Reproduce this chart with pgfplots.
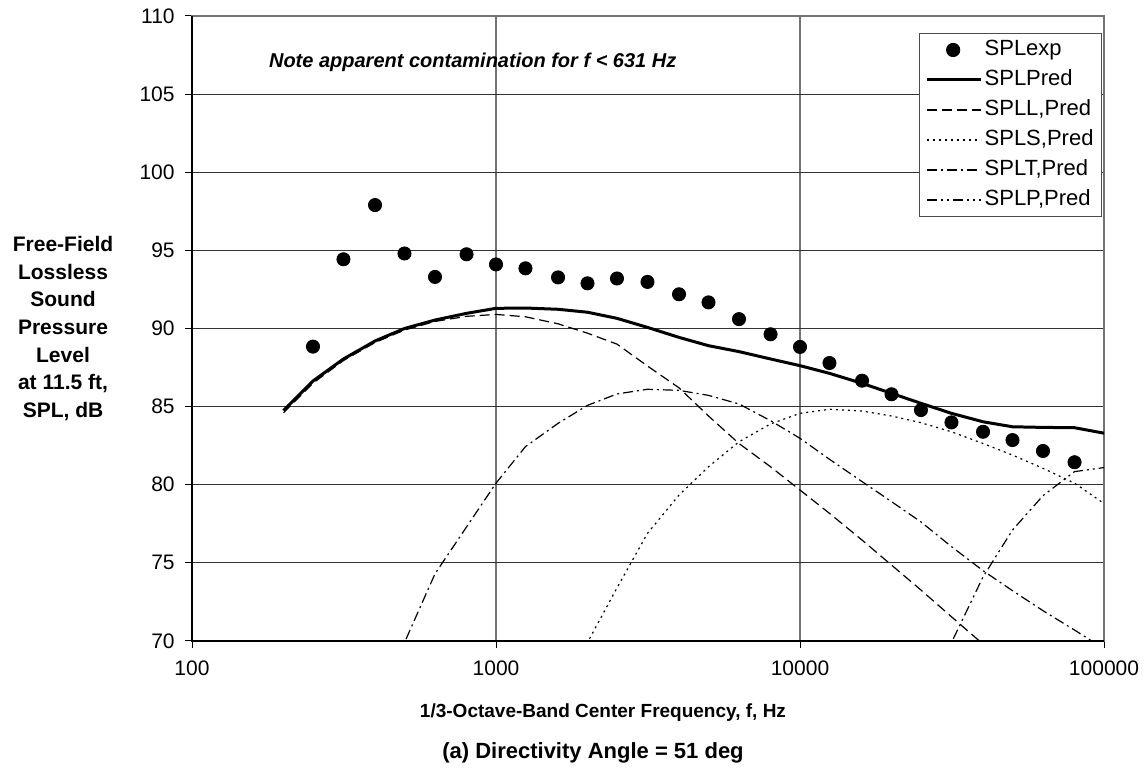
\documentclass[border=0pt]{standalone}
\usepackage{fontspec}
\setmainfont{Liberation Sans}
\usepackage{pgfplots}
\pgfplotsset{compat=1.18}

\begin{document}
\begin{tikzpicture}
% picture frame: 1146 x 770 px at 0.5pt per px, axis box at (192,16)-(1104,641)
\useasboundingbox (-96pt,-64.5pt) rectangle (477pt,320.5pt);
\begin{axis}[
    scale only axis,
    width=456pt, height=312.5pt,
    at={(0pt,0pt)}, anchor=south west,
    clip mode=individual,
    xmode=log, log basis x=10,
    xmin=100, xmax=100000,
    ymin=70, ymax=110,
    xtick={100,1000,10000,100000},
    xticklabels={100,1000,10000,100000},
    ytick={70,75,80,85,90,95,100,105,110},
    /pgf/number format/assume math mode=true,
    tick align=outside,
    major tick length=3.5pt,
    xtick pos=bottom, ytick pos=left,
    tick style={black, line width=0.5pt},
    ymajorgrids=true, xmajorgrids=true,
    y grid style={black!80, line width=0.5pt},
    x grid style={black!55, line width=0.6pt},
    axis line style={black!55, line width=0.6pt},
    ticklabel style={font=\fontsize{10.5}{12}\selectfont},
    yticklabel style={inner sep=0pt, xshift=-5pt},
    xticklabel style={inner sep=0pt, yshift=-6pt},
    legend cell align=left,
    legend style={
        at={(1,1)}, anchor=north east, xshift=-1pt, yshift=-8.5pt,
        draw=black!70, line width=0.5pt,
        font=\fontsize{11}{12}\selectfont,
        inner xsep=3pt, inner ysep=2pt,
        row sep=2.5pt,
        nodes={inner sep=1pt, text height=8pt, text depth=2.5pt},
    },
    legend image code/.code={
        \draw[mark repeat=2, mark phase=2, #1]
            plot coordinates {(0pt,0pt) (13pt,0pt) (27pt,0pt)};
    },
]

% measured SPL
\addplot[only marks, mark=*, mark size=3.3pt, black] coordinates {
(250,88.84) (315,94.43) (400,97.9) (500,94.8) (630,93.3) (800,94.75)
(1000,94.1) (1250,93.85) (1600,93.27) (2000,92.89) (2500,93.2) (3150,92.98)
(4000,92.19) (5000,91.67) (6300,90.6) (8000,89.63) (10000,88.82)
(12500,87.79) (16000,86.66) (20000,85.79) (25000,84.78) (31500,83.99)
(40000,83.39) (50000,82.86) (63000,82.16) (80000,81.44)
};
\addlegendentry{SPLexp\hspace*{3pt}}

% total prediction
\addplot[black, line width=1.5pt] coordinates {
(200,84.75) (250,86.64) (315,88.05) (400,89.2) (500,90.0) (630,90.54)
(800,90.97) (1000,91.29) (1250,91.31) (1600,91.23) (2000,91.04)
(2500,90.65) (3150,90.07) (4000,89.43) (5000,88.9) (6300,88.52)
(8000,88.05) (10000,87.62) (12500,87.13) (16000,86.49) (20000,85.85)
(25000,85.21) (31500,84.57) (40000,84.03) (50000,83.71) (63000,83.67)
(80000,83.65) (100000,83.3)
};
\addlegendentry{SPLPred}

% L component
\addplot[black, line width=0.6pt, dash pattern=on 5pt off 2.5pt] coordinates {
(200,84.6) (250,86.5) (315,87.95) (400,89.1) (500,89.9) (630,90.45)
(800,90.78) (1000,90.9) (1250,90.75) (1600,90.3) (2000,89.7)
(2500,89.0) (3150,87.6) (4000,86.2) (5000,84.4) (6300,82.64)
(8000,81.15) (10000,79.66) (12500,78.17) (16000,76.46) (20000,74.86)
(25000,73.26) (31500,71.55) (40000,69.8) (50000,68.1)
};
\addlegendentry{SPLL,Pred}

% S component
\addplot[black, line width=0.6pt, dash pattern=on 1pt off 2pt] coordinates {
(1600,66.0) (2000,69.9) (2500,73.4) (3150,76.89) (4000,79.34) (5000,81.15)
(6300,82.75) (8000,83.89) (10000,84.57) (12500,84.83) (16000,84.72)
(20000,84.4) (25000,83.97) (31500,83.39) (40000,82.64) (50000,81.9)
(63000,81.05) (80000,80.1) (100000,78.8)
};
\addlegendentry{SPLS,Pred}

% T component
\addplot[black, line width=0.6pt, dash pattern=on 5pt off 2pt on 1pt off 2pt] coordinates {
(400,65.4) (500,69.9) (630,74.3) (800,77.3) (1000,80.1) (1250,82.44)
(1600,83.93) (2000,85.08) (2500,85.81) (3150,86.11) (4000,86.04)
(5000,85.72) (6300,85.17) (8000,84.1) (10000,82.97) (12500,81.63)
(16000,80.2) (20000,78.92) (25000,77.62) (31500,76.04) (40000,74.5)
(50000,73.22) (63000,71.94) (80000,70.7) (100000,69.5)
};
\addlegendentry{SPLT,Pred}

% P component
\addplot[black, line width=0.6pt, dash pattern=on 5pt off 2pt on 1pt off 2pt on 1pt off 2pt] coordinates {
(25000,65.6) (31500,69.9) (40000,74.1) (50000,77.1) (63000,79.3)
(80000,80.84) (100000,81.1)
};
\addlegendentry{SPLP,Pred}

% darker left and bottom axis lines
\draw[black, line width=0.6pt] (rel axis cs:0,1) -- (rel axis cs:0,0) -- (rel axis cs:1,0);

\node[anchor=west, font=\fontsize{10}{12}\selectfont\bfseries\itshape]
    at (rel axis cs:0,0) [xshift=35pt, yshift=289.5pt]
    {Note apparent contamination for f < 631 Hz};

\node[font=\fontsize{10.5}{13.8}\selectfont\bfseries, align=center]
    at (rel axis cs:0,0.5) [xshift=-64.5pt]
    {Free-Field\\Lossless\\Sound\\Pressure\\Level\\at 11.5 ft,\\SPL, dB};

\node[font=\fontsize{9.5}{12}\selectfont\bfseries]
    at (rel axis cs:0,0) [xshift=205.5pt, yshift=-36pt]
    {1/3-Octave-Band Center Frequency, f, Hz};

\node[font=\fontsize{11}{13}\selectfont\bfseries]
    at (rel axis cs:0,0) [xshift=200.5pt, yshift=-56pt]
    {(a) Directivity Angle = 51 deg};

\end{axis}
\end{tikzpicture}
\end{document}
